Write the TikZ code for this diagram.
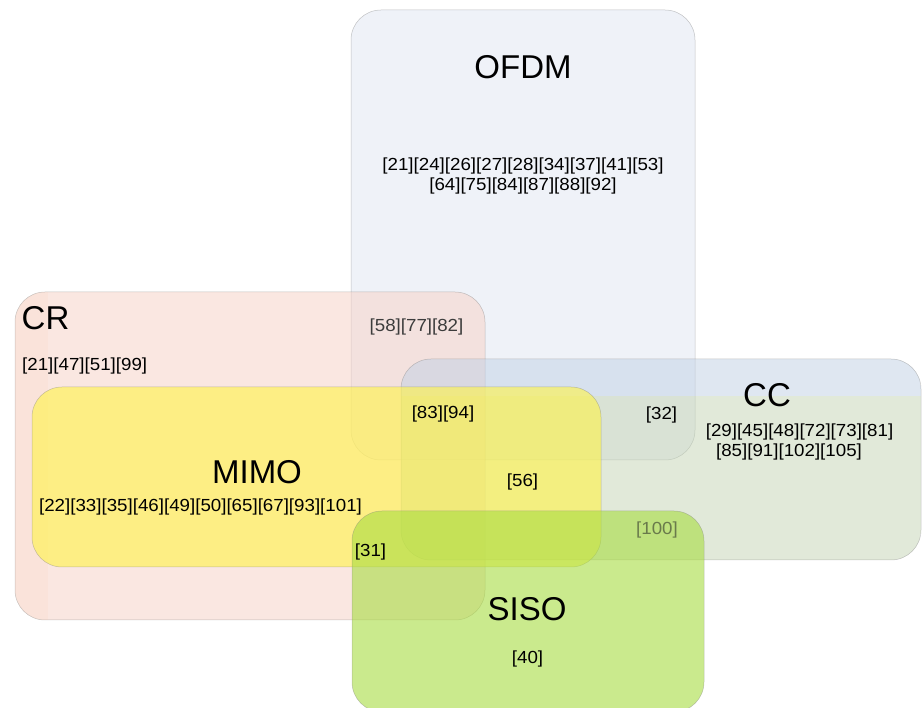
\documentclass[tikz,border=0pt]{standalone}
\usepackage{fontspec}
\setmainfont{Liberation Sans}
\newfontfamily\reffont[FakeStretch=1.07]{Liberation Sans}
\definecolor{ofdmC}{RGB}{224,231,243}
\definecolor{crC}{RGB}{247,209,197}
\definecolor{crL}{RGB}{251,205,171}
\definecolor{ccT}{RGB}{193,209,229}
\definecolor{ccB}{RGB}{196,212,180}
\definecolor{mimoC}{RGB}{255,244,70}
\definecolor{sisoC}{RGB}{168,220,65}
\definecolor{dimtext}{RGB}{60,60,60}
\definecolor{greentext}{RGB}{105,122,75}
\begin{document}
\begin{tikzpicture}[x=1pt,y=-1pt,
  venn/.style={draw=black!50, line width=0.5pt, draw opacity=0.45, fill opacity=0.5, rounded corners=30pt},
  biglabel/.style={font=\fontsize{33}{38}\selectfont, inner sep=0pt, anchor=base},
  reflabel/.style={font=\reffont\fontsize{17.5}{21}\selectfont, inner sep=0pt, anchor=base}]
\useasboundingbox (0,0) rectangle (922,708);
\clip (0,0) rectangle (922,708);
\fill[white] (0,0) rectangle (922,708);
% OFDM
\path[venn, fill=ofdmC] (351,10) rectangle (695,460);
% CR
\path[venn, fill=crC] (15,292) rectangle (485,620);
\begin{scope}
  \clip[rounded corners=30pt] (15,292) rectangle (485,620);
  \fill[crL, fill opacity=0.12] (15,292) rectangle (48,620);
\end{scope}
% CC
\begin{scope}
  \clip[rounded corners=30pt] (401,359) rectangle (921,560);
  \fill[ccT, fill opacity=0.5] (401,359) rectangle (921,396);
  \fill[ccB, fill opacity=0.5] (401,396) rectangle (921,560);
\end{scope}
\path[venn] (401,359) rectangle (921,560);
% MIMO
\path[venn, fill=mimoC, fill opacity=0.6] (32,387) rectangle (601,567);
% SISO
\path[venn, fill=sisoC, fill opacity=0.6] (352,511) rectangle (704,712);

% labels
\node[biglabel] (ofdm) at (523,78.5) {OFDM};
\node[reflabel] (ofdmra) at (523,171) {[21][24][26][27][28][34][37][41][53]};
\node[reflabel] (ofdmrb) at (523,191) {[64][75][84][87][88][92]};
\node[biglabel, anchor=base west] (cr) at (21.5,330) {CR};
\node[reflabel, anchor=base west] (crr) at (22,371) {[21][47][51][99]};
\node[reflabel, text=dimtext] (ofcr) at (416.5,332) {[58][77][82]};
\node[reflabel] (ofcrcc) at (443,419) {[83][94]};
\node[biglabel] (mimo) at (257,484) {MIMO};
\node[reflabel] (mimor) at (200.5,512) {[22][33][35][46][49][50][65][67][93][101]};
\node[reflabel] (mimosiso) at (370.5,557) {[31]};
\node[reflabel] (ofcc) at (661.5,420) {[32]};
\node[biglabel] (cc) at (767,407) {CC};
\node[reflabel] (ccra) at (799.5,437) {[29][45][48][72][73][81]};
\node[reflabel] (ccrb) at (789,457) {[85][91][102][105]};
\node[reflabel] (mimocc) at (522.5,487) {[56]};
\node[reflabel, text=greentext] (ccsiso) at (657,535) {[100]};
\node[biglabel] (siso) at (527,621) {SISO};
\node[reflabel] (sisor) at (527.5,663) {[40]};
\end{tikzpicture}
\end{document}
